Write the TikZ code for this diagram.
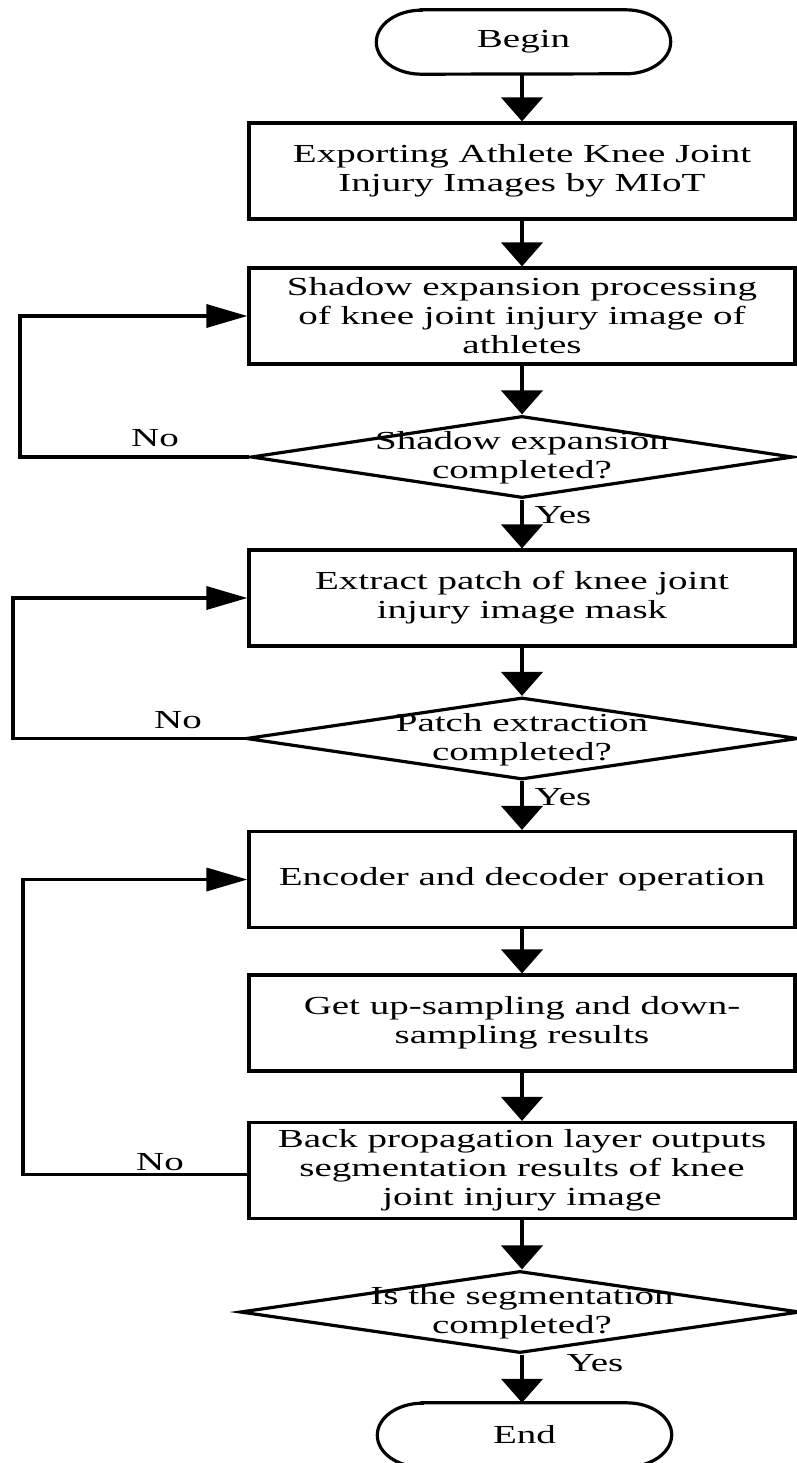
\documentclass[tikz,border=0pt]{standalone}
\usepackage{fontspec}
\setmainfont{Liberation Serif}[FakeStretch=1.5]
\usetikzlibrary{arrows.meta,shapes.geometric}
\begin{document}
\begin{tikzpicture}[x=1pt,y=1pt,
  box/.style={draw, line width=3.2pt, minimum width=546pt, minimum height=96pt, inner sep=0pt},
  dia/.style={draw, diamond, line width=3.2pt, inner sep=0pt, minimum height=82pt},
  term/.style={minimum width=294pt, minimum height=64pt, inner sep=0pt},
  txt/.style={font=\fontsize{26}{29}\selectfont, align=center, inner sep=0pt},
  vflow/.style={line width=4.5pt, -{Triangle[width=41pt,length=24pt]}},
  hloop/.style={line width=3.5pt, line join=miter, -{Triangle[width=23pt,length=41pt]}},
  tline/.style={line width=3.2pt}
]
\useasboundingbox (0,0) rectangle (797,-1463);

% terminals
\node[term] (begin) at (523.5,-42) {};
\node[txt] (begintext) at (begin.center) {Begin};
\draw[tline] ([xshift=45pt]begin.north west) -- ([xshift=-45pt]begin.north east)
  arc[start angle=90, end angle=-90, x radius=45pt, y radius=32pt]
  -- ([xshift=45pt]begin.south west)
  arc[start angle=270, end angle=90, x radius=45pt, y radius=32pt] -- cycle;

\node[term] (end) at (524.5,-1435) {};
\node[txt] (endtext) at (end.center) {End};
\draw[tline] ([xshift=45pt]end.north west) -- ([xshift=-45pt]end.north east)
  arc[start angle=90, end angle=-90, x radius=45pt, y radius=32pt]
  -- ([xshift=45pt]end.south west)
  arc[start angle=270, end angle=90, x radius=45pt, y radius=32pt] -- cycle;

% process boxes
\node[box, txt] (b1) at (522,-171) {Exporting Athlete Knee Joint\\Injury Images by MIoT};
\node[box, txt] (b2) at (522,-316) {Shadow expansion processing\\of knee joint injury image of\\athletes};
\node[box, txt] (b3) at (522,-598) {Extract patch of knee joint\\injury image mask};
\node[box, txt] (b4) at (522,-879.5) {Encoder and decoder operation};
\node[box, txt] (b5) at (522,-1023) {Get up-sampling and down-\\sampling results};
\node[box, txt] (b6) at (522,-1170.5) {Back propagation layer outputs\\segmentation results of knee\\joint injury image};

% decisions
\node[dia, minimum width=542pt] (d1) at (522,-457) {};
\node[txt] (d1t) at (522,-458) {Shadow expansion\\completed?};
\node[dia, minimum width=552pt] (d2) at (522,-738.5) {};
\node[txt] (d2t) at (522,-740) {Patch extraction\\completed?};
\node[dia, minimum width=560pt] (d3) at (520,-1312) {};
\node[txt] (d3t) at (522,-1313) {Is the segmentation\\completed?};

% main flow
\draw[vflow] (begin.south -| b1.north) -- (b1.north);
\draw[vflow] (b1.south) -- (b2.north);
\draw[vflow] (b2.south) -- (d1.north);
\draw[vflow] (d1.south) -- (b3.north);
\draw[vflow] (b3.south) -- (d2.north);
\draw[vflow] (d2.south) -- (b4.north);
\draw[vflow] (b4.south) -- (b5.north);
\draw[vflow] (b5.south) -- (b6.north);
\draw[vflow] (b6.south) -- (d3.north -| b6.south);
\draw[vflow] (d3.south -| b6.south) -- (end.north -| b6.south);

% loops
\coordinate (l1) at (20,-400);
\coordinate (l2) at (13,-680);
\coordinate (l3) at (23,-1000);
\draw[hloop] (d1.west) -| (l1) |- (b2.west);
\draw[hloop] (d2.west) -| (l2) |- (b3.west);
\draw[hloop] ([yshift=-4pt]b6.west) -| (l3) |- (b4.west);

% labels
\node[txt] (no1) at (155,-438) {No};
\node[txt] (no2) at (178,-720) {No};
\node[txt] (no3) at (160,-1162) {No};
\node[txt] (yes1) at (563,-515) {Yes};
\node[txt] (yes2) at (563,-797) {Yes};
\node[txt] (yes3) at (595,-1363) {Yes};
\end{tikzpicture}
\end{document}
